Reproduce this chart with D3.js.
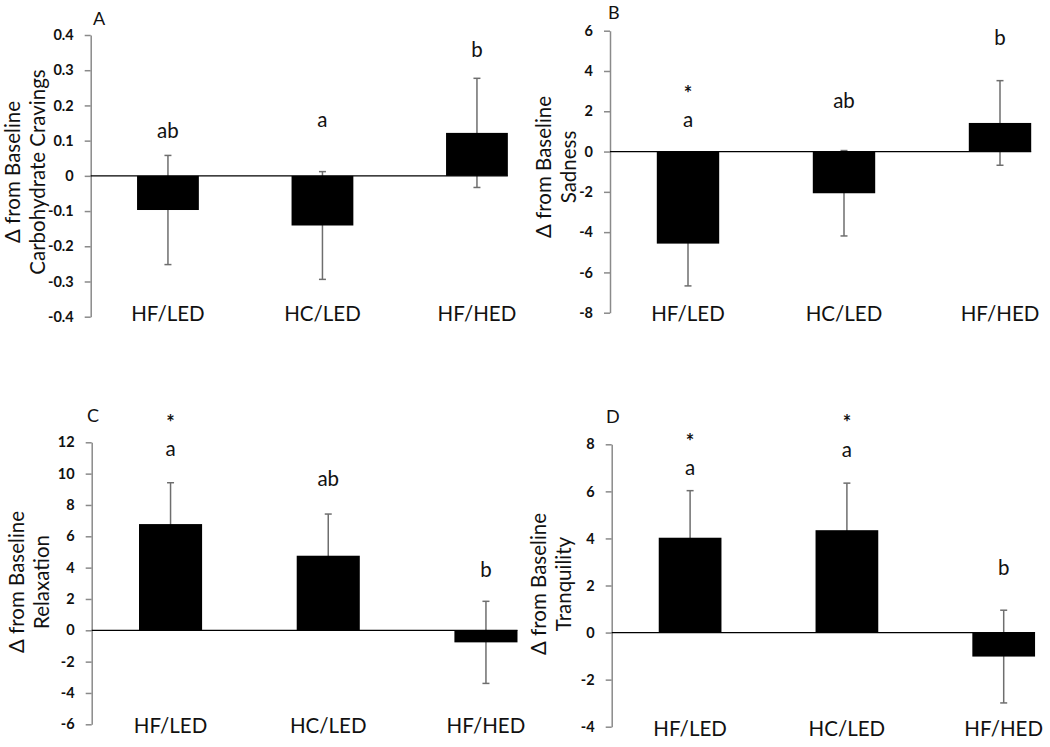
<!DOCTYPE html>
<html>
<head>
<meta charset="utf-8">
<script src="https://cdn.jsdelivr.net/npm/d3@7"></script>
<style>
  html, body { margin: 0; padding: 0; background: #fff; }
  svg { display: block; }
  text { font-family: Lato, "Open Sans", sans-serif; fill: #111; }
</style>
</head>
<body>
<svg id="chart" width="1050" height="747"></svg>
<script>
// ---------------- DATA ----------------
const categories = ["HF/LED", "HC/LED", "HF/HED"];

const cravingsMean = [-0.097, -0.141, 0.122];
const cravingsErr  = [0.155, 0.153, 0.155];
const cravingsTicks = [0.4, 0.3, 0.2, 0.1, 0, -0.1, -0.2, -0.3, -0.4];
const cravingsLetters = ["ab", "a", "b"];
const cravingsStars = [false, false, false];

const sadnessMean = [-4.57, -2.07, 1.42];
const sadnessErr  = [2.1, 2.12, 2.1];
const sadnessTicks = [6, 4, 2, 0, -2, -4, -6, -8];
const sadnessLetters = ["a", "ab", "b"];
const sadnessStars = [true, false, false];

const relaxMean = [6.78, 4.76, -0.77];
const relaxErr  = [2.64, 2.66, 2.62];
const relaxTicks = [12, 10, 8, 6, 4, 2, 0, -2, -4, -6];
const relaxLetters = ["a", "ab", "b"];
const relaxStars = [true, false, false];

const tranqMean = [4.03, 4.35, -1.02];
const tranqErr  = [2.0, 2.0, 1.97];
const tranqTicks = [8, 6, 4, 2, 0, -2, -4];
const tranqLetters = ["a", "a", "b"];
const tranqStars = [true, true, false];

// annotation heights (value units) where the letter / star baselines sit
const cravingsLetterAt = [0.108, 0.139, 0.338];
const sadnessLetterAt  = [1.22, 2.16, 5.29];
const sadnessStarAt    = [2.53, null, null];
const relaxLetterAt    = [11.13, 9.23, 3.42];
const relaxStarAt      = [12.76, null, null];
const tranqLetterAt    = [6.70, 7.48, 2.45];
const tranqStarAt      = [7.82, 8.60, null];

const panelTags = ["A", "B", "C", "D"];
const titleLine1 = "\u0394 from Baseline";
const titleLine2 = ["Carbohydrate Cravings", "Sadness", "Relaxation", "Tranquility"];

// ---------------- LAYOUT ----------------
const panels = [
  { tag: panelTags[0], mean: cravingsMean, err: cravingsErr, ticks: cravingsTicks, letters: cravingsLetters, stars: cravingsStars,
    letterAt: cravingsLetterAt, starAt: [null, null, null], title2: titleLine2[0],
    x0: 90.7, step: 154.5, yTop: 35, yBot: 316.7, tagX: 93, tagY: 25, catY: 321, tX: 20, tCy: 172, fmt: d => d === 0 ? "0" : d.toFixed(1) },
  { tag: panelTags[1], mean: sadnessMean, err: sadnessErr, ticks: sadnessTicks, letters: sadnessLetters, stars: sadnessStars,
    letterAt: sadnessLetterAt, starAt: sadnessStarAt, title2: titleLine2[1],
    x0: 610, step: 156, yTop: 30.7, yBot: 312.7, tagX: 608, tagY: 19, catY: 321, tX: 551, tCy: 167, fmt: d => String(d) },
  { tag: panelTags[2], mean: relaxMean, err: relaxErr, ticks: relaxTicks, letters: relaxLetters, stars: relaxStars,
    letterAt: relaxLetterAt, starAt: relaxStarAt, title2: titleLine2[2],
    x0: 91.7, step: 157.7, yTop: 442.3, yBot: 724.3, tagX: 87, tagY: 422, catY: 733, tX: 24, tCy: 582, fmt: d => String(d) },
  { tag: panelTags[3], mean: tranqMean, err: tranqErr, ticks: tranqTicks, letters: tranqLetters, stars: tranqStars,
    letterAt: tranqLetterAt, starAt: tranqStarAt, title2: titleLine2[3],
    x0: 611.7, step: 156.8, yTop: 444.3, yBot: 726.7, tagX: 606, tagY: 423, catY: 736, tX: 546, tCy: 584, fmt: d => String(d) }
];

const svg = d3.select("#chart");
const labelFont = 20.5;

panels.forEach(p => {
  const g = svg.append("g");
  const x = d3.scaleBand().domain(categories).range([p.x0, p.x0 + 3 * p.step])
    .paddingInner(0.6).paddingOuter(0.3);
  const y = d3.scaleLinear().domain([d3.min(p.ticks), d3.max(p.ticks)]).range([p.yBot, p.yTop]);
  const bw = x.bandwidth();
  const cx = c => x(c) + bw / 2;

  // y axis
  const ax = g.append("g").attr("transform", `translate(${p.x0},0)`)
    .call(d3.axisLeft(y).tickValues(p.ticks).tickFormat(p.fmt).tickSize(6).tickSizeOuter(0).tickPadding(11));
  ax.select(".domain").attr("stroke", "#8a8a8a").attr("stroke-width", 1.5);
  ax.selectAll(".tick line").attr("stroke", "#8a8a8a").attr("stroke-width", 1.5);
  ax.selectAll(".tick text").attr("font-family", "Lato, sans-serif").attr("font-weight", "bold")
    .attr("font-size", 14.5).attr("fill", "#222");

  const rows = categories.map((c, i) => ({ c, v: p.mean[i], e: p.err[i], i }));

  // error bars (behind bars)
  const eb = g.append("g").attr("stroke", "#6e6e6e").attr("stroke-width", 1.5);
  eb.selectAll("line.v").data(rows).join("line")
    .attr("x1", d => cx(d.c)).attr("x2", d => cx(d.c))
    .attr("y1", d => y(d.v + d.e)).attr("y2", d => y(d.v - d.e));
  eb.selectAll("line.t").data(rows).join("line")
    .attr("x1", d => cx(d.c) - 3.5).attr("x2", d => cx(d.c) + 3.5)
    .attr("y1", d => y(d.v + d.e)).attr("y2", d => y(d.v + d.e));
  eb.selectAll("line.b").data(rows).join("line")
    .attr("x1", d => cx(d.c) - 3.5).attr("x2", d => cx(d.c) + 3.5)
    .attr("y1", d => y(d.v - d.e)).attr("y2", d => y(d.v - d.e));

  // bars
  g.selectAll("rect.bar").data(rows).join("rect")
    .attr("class", "bar")
    .attr("x", d => x(d.c)).attr("width", bw)
    .attr("y", d => y(Math.max(0, d.v)))
    .attr("height", d => Math.abs(y(d.v) - y(0)))
    .attr("fill", "#000");

  // zero line
  g.append("line")
    .attr("x1", p.x0).attr("x2", x(categories[2]) + bw)
    .attr("y1", y(0)).attr("y2", y(0))
    .attr("stroke", "#000").attr("stroke-width", 1.3);

  // category labels
  g.selectAll("text.cat").data(categories).join("text")
    .attr("x", c => cx(c)).attr("y", p.catY)
    .attr("text-anchor", "middle").attr("font-size", labelFont).text(c => c);

  // significance letters
  g.selectAll("text.let").data(rows).join("text")
    .attr("x", d => cx(d.c)).attr("y", d => y(p.letterAt[d.i]))
    .attr("text-anchor", "middle").attr("font-size", labelFont).text(d => p.letters[d.i]);

  // stars
  g.selectAll("text.star").data(rows.filter(d => p.stars[d.i])).join("text")
    .attr("x", d => cx(d.c)).attr("y", d => y(p.starAt[d.i]))
    .attr("text-anchor", "middle").attr("font-family", "'Liberation Sans', Arial, sans-serif")
    .attr("font-weight", "bold").attr("font-size", 20).text("*");

  // panel tag
  g.append("text").attr("x", p.tagX).attr("y", p.tagY).attr("font-size", 18).text(p.tag);

  // y title (two lines)
  const t = g.append("text")
    .attr("transform", `translate(${p.tX},${p.tCy}) rotate(-90)`)
    .attr("text-anchor", "middle").attr("font-size", labelFont);
  t.append("tspan").attr("x", 0).attr("y", 0).text(titleLine1);
  t.append("tspan").attr("x", 0).attr("y", 25).text(p.title2);
});
</script>
</body>
</html>
